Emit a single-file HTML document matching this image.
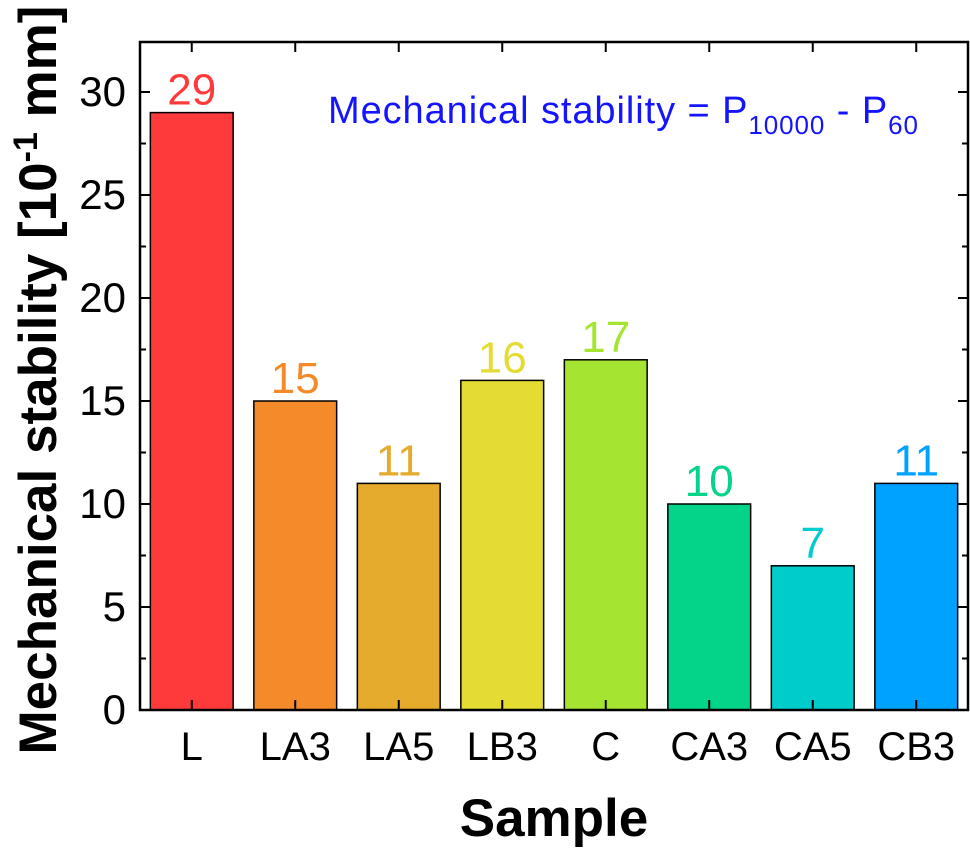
<!DOCTYPE html>
<html><head><meta charset="utf-8"><style>
body{margin:0;background:#fff;}
svg{font-family:"Liberation Sans",Arial,sans-serif;}
</style></head><body>
<svg width="970" height="850" viewBox="0 0 970 850">
<g id="bars"></g>
<g id="axes"></g>
<text x="328" y="123" font-size="38" textLength="590" fill="#1414ff">Mechanical stability = P<tspan font-size="26" dy="11">10000</tspan><tspan dy="-11"> - P</tspan><tspan font-size="26" dy="11">60</tspan></text>
<text x="554" y="836" font-size="53" font-weight="bold" text-anchor="middle">Sample</text>
<text transform="translate(56,380) rotate(-90)" font-size="53" font-weight="bold" text-anchor="middle">Mechanical stability [10<tspan font-size="34" dy="-19">-1</tspan><tspan dy="19"> mm]</tspan></text>
</svg>
<script>
const categories=["L","LA3","LA5","LB3","C","CA3","CA5","CB3"];
const values=[29,15,11,16,17,10,7,11];
const colors=["#ff3a3a","#f58a2a","#e4ab2c","#e4dc32","#a6e432","#04d48a","#00cccc","#00a2ff"];
const yTicks=[0,5,10,15,20,25,30];
const L=140,R=968,T=42,B=710,yMax=30,y30=92;
const ns="http://www.w3.org/2000/svg";
const step=(R-L)/categories.length;
function xc(i){return L+step*(i+0.5);}
function y(v){return B-v*(B-y30)/yMax;}
function mk(t,a,p){const e=document.createElementNS(ns,t);for(const k in a)e.setAttribute(k,a[k]);p.appendChild(e);return e;}
const gb=document.getElementById('bars'),ga=document.getElementById('axes');
const bw=step*0.8;
values.forEach((v,i)=>{
 const r=mk('rect',{x:xc(i)-bw/2,y:y(v),width:bw,height:B-y(v),fill:colors[i],stroke:'#000','stroke-width':1.5},gb);
 
 
 const t=mk('text',{x:xc(i),y:y(v)-8,'font-size':44,fill:colors[i],'text-anchor':'middle'},gb);
 t.textContent=v;
 
 
 const xl=mk('text',{x:xc(i),y:760,'font-size':40,'text-anchor':'middle'},ga);
 xl.textContent=categories[i];
 
 
 mk('line',{x1:xc(i),x2:xc(i),y1:B,y2:B-10,stroke:'#000','stroke-width':2},ga);
 mk('line',{x1:xc(i),x2:xc(i),y1:T,y2:T+10,stroke:'#000','stroke-width':2},ga);
});
for(let v=0;v<=yMax+0.01;v+=2.5){
 const maj=v%5===0,len=maj?10:6;
 mk('line',{x1:L,x2:L+len,y1:y(v),y2:y(v),stroke:'#000','stroke-width':2},ga);
 mk('line',{x1:R,x2:R-len,y1:y(v),y2:y(v),stroke:'#000','stroke-width':2},ga);
}
yTicks.forEach(v=>{
 const t=mk('text',{x:L-14,y:y(v)+14,'font-size':42,'text-anchor':'end'},ga);
 t.textContent=v;
 
 
});
const f=mk('rect',{x:L,y:T,width:R-L,height:B-T,fill:'none',stroke:'#000','stroke-width':2.5},ga);


</script>
</body></html>
